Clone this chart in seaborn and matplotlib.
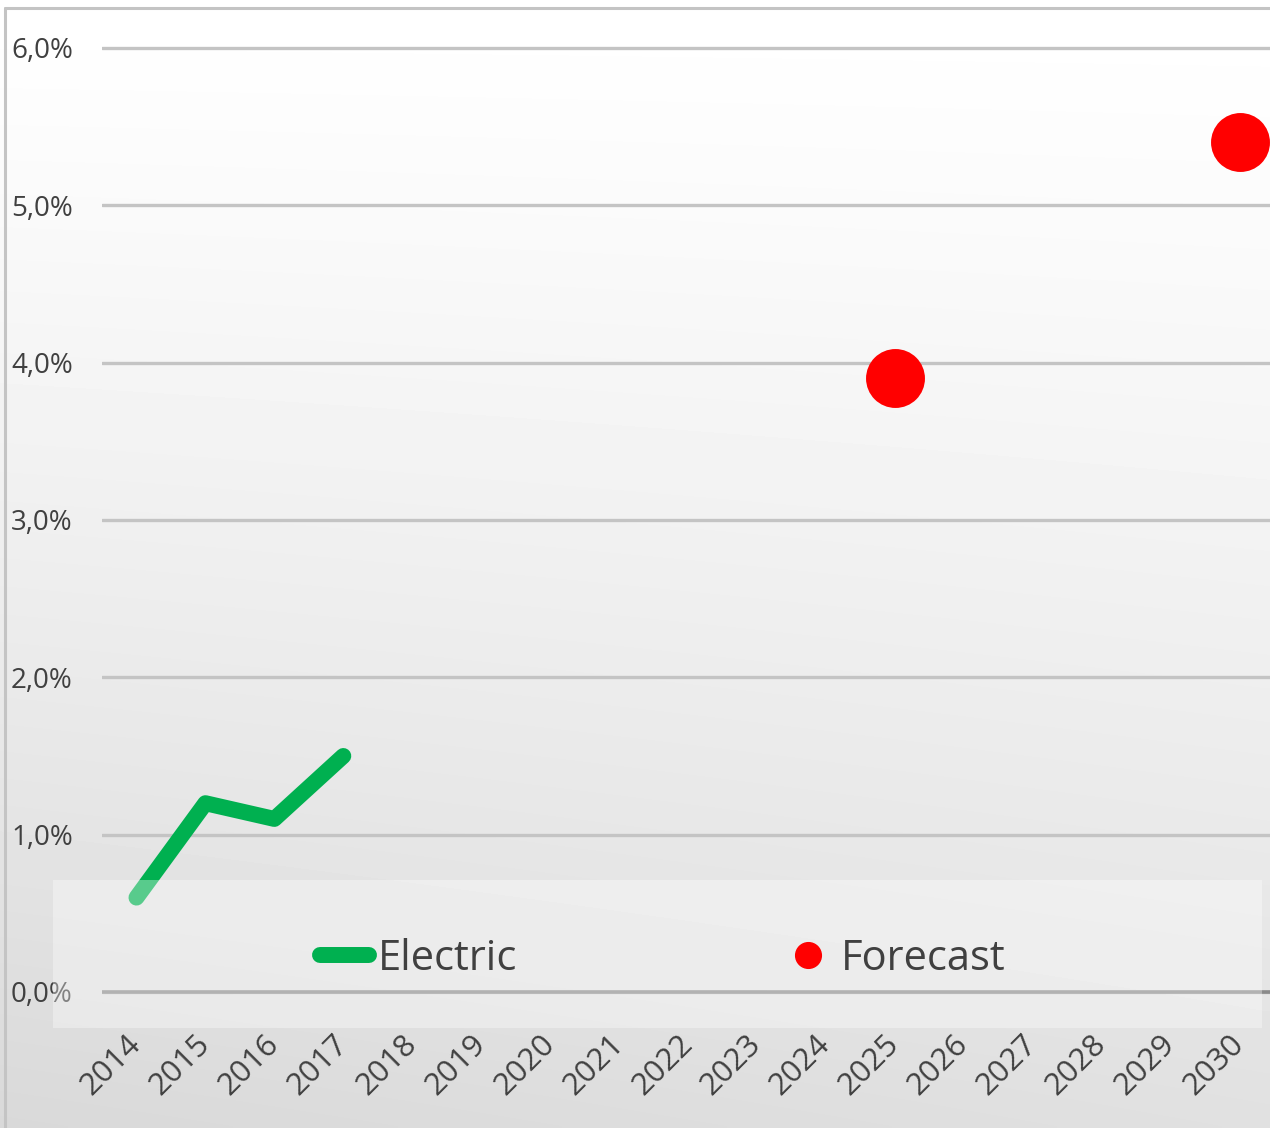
import numpy as np
import matplotlib
matplotlib.use("Agg")
import matplotlib.pyplot as plt
import seaborn as sns
from matplotlib.patches import Rectangle
from matplotlib.lines import Line2D
from matplotlib.ticker import FixedLocator, FuncFormatter

# ---- data -------------------------------------------------------------
years = list(range(2014, 2031))
electric_years = [2014, 2015, 2016, 2017]
electric_share = [0.6, 1.2, 1.1, 1.5]
forecast_years = [2025, 2030]
forecast_share = [3.9, 5.4]
y_ticks = [0, 1, 2, 3, 4, 5, 6]
series_labels = ["Electric", "Forecast"]

GREEN = "#00b050"
RED = "#ff0000"
TEXT = "#404040"
LINE_W = 11.5

sns.set_theme(style="white")
plt.rcParams["font.family"] = ["Open Sans", "DejaVu Sans"]

W, H = 1270, 1128
fig = plt.figure(figsize=(W / 100, H / 100), dpi=100)

# soft white-to-grey background
bg = fig.add_axes([0, 0, 1, 1], zorder=-10)
yy, xx = np.mgrid[0:1:300j, 0:1:300j]
shade = 1 - (0.12 * yy ** 1.2 + 0.03 * (1 - xx) * yy)
bg.imshow(shade, cmap="gray", vmin=0, vmax=1, extent=[0, 1, 0, 1],
          aspect="auto", origin="upper", interpolation="bilinear")
bg.axis("off")

# chart frame (left and top edges)
fig.add_artist(Line2D([5 / W, 5 / W], [0, 1 - 8 / H], transform=fig.transFigure,
                      color="#c4c4c4", lw=2.2))
fig.add_artist(Line2D([5 / W, 1], [1 - 8 / H, 1 - 8 / H], transform=fig.transFigure,
                      color="#c4c4c4", lw=2.2))

# plot area
px_per_unit = (992 - 48) / 6.0
y0, y1 = -0.03, 6.03
top_px = 48 - (y1 - 6) * px_per_unit
bot_px = 992 - y0 * px_per_unit
ax = fig.add_axes([102 / W, 1 - bot_px / H, (1274 - 102) / W, (bot_px - top_px) / H])
ax.set_facecolor("none")
for s in ax.spines.values():
    s.set_visible(False)

sns.lineplot(x=electric_years, y=electric_share, ax=ax, color=GREEN,
             linewidth=LINE_W, solid_capstyle="round", solid_joinstyle="round",
             zorder=3)
sns.scatterplot(x=forecast_years, y=forecast_share, ax=ax, color=RED,
                s=1800, linewidth=0, zorder=3)

ax.set_xlim(2013.5, 2030.5)
ax.set_ylim(y0, y1)
ax.yaxis.set_major_locator(FixedLocator(y_ticks))
ax.yaxis.set_major_formatter(FuncFormatter(lambda v, p: f"{v:.1f}%".replace(".", ",")))
ax.xaxis.set_major_locator(FixedLocator(years))
ax.set_xticklabels([str(y) for y in years])
ax.grid(axis="y", color="#c4c4c4", linewidth=2.4, zorder=1)
ax.grid(axis="x", visible=False)
ax.axhline(0, color="#8a8a8a", linewidth=2.6, zorder=2)
ax.set_xlabel("")
ax.set_ylabel("")
ax.tick_params(axis="y", length=0, pad=21, labelsize=20, labelcolor=TEXT)
ax.tick_params(axis="x", length=0, pad=31, labelsize=22.5, labelcolor=TEXT)
for lbl in ax.get_xticklabels():
    lbl.set_rotation(45)
    lbl.set_ha("right")
    lbl.set_va("center")
    lbl.set_rotation_mode("anchor")

# translucent legend panel over the bottom of the plot
fig.add_artist(Rectangle((53 / W, 1 - 1028 / H), (1262 - 53) / W, 148 / H,
                         transform=fig.transFigure, facecolor="white", alpha=0.35,
                         edgecolor="none", zorder=4))
handles = [
    Line2D([], [], color=GREEN, lw=LINE_W, solid_capstyle="round"),
    Line2D([], [], color=RED, lw=0, marker="o", markersize=18.5),
]
leg = fig.legend(handles, series_labels, loc="center",
                 bbox_to_anchor=(663 / W, 1 - 959 / H), ncol=2, frameon=False,
                 fontsize=30, handlelength=1.17, handletextpad=0.21,
                 columnspacing=6.4, labelcolor=TEXT)
leg.set_zorder(5)

fig.savefig("out.png", dpi=100)
